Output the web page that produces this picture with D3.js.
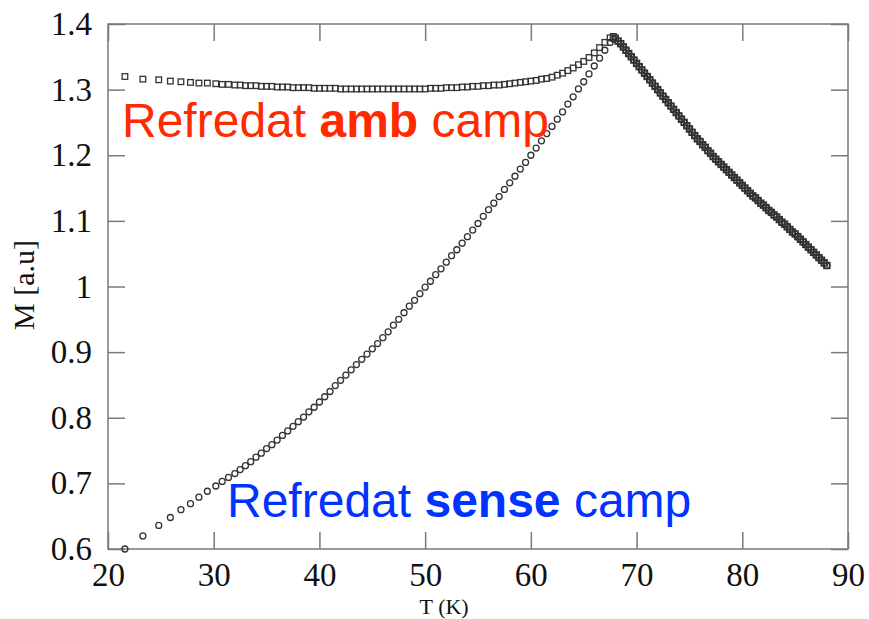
<!DOCTYPE html>
<meta charset="utf-8">
<script src="https://d3js.org/d3.v7.min.js"></script>
<style>
  body { margin: 0; background: #fff; }
</style>
<div id="my_dataviz"></div>
<script>

// temperatures shared by both curves, up to the peak
var tempRise = [21.6, 23.3, 24.8, 25.9, 26.9, 27.8, 28.6, 29.4, 30.2, 30.8, 31.4, 32.0, 32.5, 33.0,
  33.5, 34, 34.5, 35, 35.5, 36, 36.5, 37, 37.5, 38,
  38.5, 39, 39.5, 40, 40.5, 41, 41.5, 42, 42.5, 43,
  43.5, 44, 44.5, 45, 45.5, 46, 46.5, 47, 47.5, 48,
  48.5, 49, 49.5, 50, 50.5, 51, 51.5, 52, 52.5, 53,
  53.5, 54, 54.5, 55, 55.5, 56, 56.5, 57, 57.5, 58,
  58.5, 59, 59.5, 60, 60.5, 61, 61.5, 62, 62.5, 63,
  63.5, 64, 64.5, 65, 65.5, 66, 66.5, 67, 67.5, 67.8, 68.0];

// cooled with field (squares)
var mFieldCooled = [1.320, 1.316, 1.315, 1.313, 1.312, 1.311, 1.310, 1.310, 1.309, 1.308, 1.308, 1.307, 1.307, 1.306,
  1.306, 1.306, 1.305, 1.305, 1.305, 1.304, 1.304, 1.304, 1.303, 1.303,
  1.303, 1.303, 1.302, 1.302, 1.302, 1.302, 1.302, 1.301, 1.301, 1.301,
  1.301, 1.301, 1.301, 1.301, 1.301, 1.301, 1.301, 1.301, 1.301, 1.301,
  1.301, 1.301, 1.301, 1.301, 1.302, 1.302, 1.302, 1.303, 1.303, 1.303,
  1.304, 1.304, 1.305, 1.305, 1.306, 1.306, 1.307, 1.307, 1.308, 1.309,
  1.310, 1.311, 1.312, 1.313, 1.314, 1.316, 1.317, 1.319, 1.322, 1.325,
  1.329, 1.333, 1.338, 1.343, 1.349, 1.356, 1.364, 1.372, 1.379, 1.381, 1.379];

// cooled without field (circles)
var mZeroCooled = [0.600, 0.620, 0.636, 0.648, 0.660, 0.669, 0.679, 0.688, 0.696, 0.703, 0.709, 0.715, 0.721, 0.727,
  0.733, 0.740, 0.746, 0.753, 0.759, 0.766, 0.773, 0.780, 0.787, 0.794,
  0.801, 0.809, 0.816, 0.824, 0.832, 0.840, 0.849, 0.857, 0.865, 0.873,
  0.881, 0.889, 0.897, 0.905, 0.913, 0.922, 0.931, 0.941, 0.950, 0.960,
  0.970, 0.979, 0.989, 0.999, 1.008, 1.018, 1.027, 1.037, 1.047, 1.056,
  1.066, 1.076, 1.086, 1.096, 1.107, 1.117, 1.127, 1.137, 1.148, 1.158,
  1.168, 1.179, 1.189, 1.200, 1.211, 1.222, 1.233, 1.244, 1.255, 1.266,
  1.278, 1.289, 1.301, 1.312, 1.324, 1.336, 1.348, 1.360, 1.372, 1.377, 1.378];

// above the peak both curves coincide
var tempFall = [68.25, 68.5, 68.75, 69, 69.25, 69.5, 69.75, 70,
  70.25, 70.5, 70.75, 71, 71.25, 71.5, 71.75, 72,
  72.25, 72.5, 72.75, 73, 73.25, 73.5, 73.75, 74,
  74.25, 74.5, 74.75, 75, 75.25, 75.5, 75.75, 76,
  76.25, 76.5, 76.75, 77, 77.25, 77.5, 77.75, 78,
  78.25, 78.5, 78.75, 79, 79.25, 79.5, 79.75, 80,
  80.25, 80.5, 80.75, 81, 81.25, 81.5, 81.75, 82,
  82.25, 82.5, 82.75, 83, 83.25, 83.5, 83.75, 84,
  84.25, 84.5, 84.75, 85, 85.25, 85.5, 85.75, 86,
  86.25, 86.5, 86.75, 87, 87.25, 87.5, 87.75, 88];

var mFall = [1.374, 1.370, 1.365, 1.360, 1.355, 1.350, 1.345, 1.340,
  1.335, 1.330, 1.325, 1.320, 1.315, 1.310, 1.305, 1.300,
  1.295, 1.290, 1.285, 1.280, 1.275, 1.270, 1.265, 1.260,
  1.255, 1.250, 1.245, 1.240, 1.235, 1.230, 1.225, 1.221,
  1.216, 1.212, 1.207, 1.203, 1.198, 1.194, 1.190, 1.186,
  1.182, 1.178, 1.174, 1.170, 1.166, 1.162, 1.158, 1.154,
  1.150, 1.146, 1.142, 1.138, 1.135, 1.131, 1.127, 1.124,
  1.120, 1.116, 1.113, 1.109, 1.106, 1.102, 1.098, 1.095,
  1.091, 1.087, 1.083, 1.080, 1.076, 1.072, 1.068, 1.064,
  1.060, 1.056, 1.052, 1.048, 1.044, 1.040, 1.036, 1.032];

var xTicks = [20, 30, 40, 50, 60, 70, 80, 90];
var yTicks = [0.6, 0.7, 0.8, 0.9, 1.0, 1.1, 1.2, 1.3, 1.4];

// set the dimensions and margins of the graph
var margin = {top: 24, right: 21, bottom: 70, left: 108},
    width = 869 - margin.left - margin.right,
    height = 619 - margin.top - margin.bottom;

var svg = d3.select("#my_dataviz")
  .append("svg")
    .attr("width", 869)
    .attr("height", 619)
  .append("g")
    .attr("transform", "translate(" + margin.left + "," + margin.top + ")");

var x = d3.scaleLinear().domain([20, 90]).range([0, width]);
var y = d3.scaleLinear().domain([0.6, 1.4]).range([height, 0]);

var frameColor = "#7a7a7a";
var tickFont = "'Liberation Serif', 'DejaVu Serif', serif";

// frame
svg.append("rect")
  .attr("width", width)
  .attr("height", height)
  .style("fill", "none")
  .style("stroke", frameColor)
  .style("stroke-width", 1.5);

// bottom axis, ticks pointing inwards
svg.append("g")
  .attr("transform", "translate(0," + height + ")")
  .call(d3.axisBottom(x).tickValues(xTicks).tickSize(-17).tickSizeOuter(0).tickPadding(14).tickFormat(d3.format("d")))
  .call(function(g) { g.select(".domain").remove(); });

// top axis, no labels
svg.append("g")
  .call(d3.axisTop(x).tickValues(xTicks).tickSize(-17).tickSizeOuter(0).tickFormat(""))
  .call(function(g) { g.select(".domain").remove(); });

// left axis
svg.append("g")
  .call(d3.axisLeft(y).tickValues(yTicks).tickSize(-17).tickSizeOuter(0).tickPadding(16)
    .tickFormat(function(d) { return d === 1 ? "1" : d3.format(".1f")(d); }))
  .call(function(g) { g.select(".domain").remove(); });

// right axis, no labels
svg.append("g")
  .attr("transform", "translate(" + width + ",0)")
  .call(d3.axisRight(y).tickValues(yTicks).tickSize(-17).tickSizeOuter(0).tickFormat(""))
  .call(function(g) { g.select(".domain").remove(); });

svg.selectAll(".tick line")
  .style("stroke", frameColor)
  .style("stroke-width", 1.5);
svg.selectAll(".tick text")
  .style("font-family", tickFont)
  .style("font-size", "33px")
  .style("fill", "#111");

// axis labels
svg.append("text")
  .attr("text-anchor", "middle")
  .attr("x", x(51.8))
  .attr("y", 614 - margin.top)
  .style("font-family", tickFont)
  .style("font-size", "22px")
  .style("fill", "#111")
  .text("T (K)");

svg.append("text")
  .attr("text-anchor", "middle")
  .attr("transform", "translate(" + (34 - margin.left) + "," + (285 - margin.top) + ") rotate(-90)")
  .style("font-family", tickFont)
  .style("font-size", "30px")
  .style("fill", "#111")
  .text("M [a.u]");

// build the two series
var fieldCooled = tempRise.map(function(t, i) { return {t: t, m: mFieldCooled[i]}; })
  .concat(tempFall.map(function(t, i) { return {t: t, m: mFall[i]}; }));
var zeroCooled = tempRise.map(function(t, i) { return {t: t, m: mZeroCooled[i]}; })
  .concat(tempFall.map(function(t, i) { return {t: t, m: mFall[i]}; }));

var markColor = "#333";
var side = 5.6;

// circles: cooled without field
svg.append("g")
  .selectAll("circle")
  .data(zeroCooled)
  .enter()
  .append("circle")
    .attr("cx", function(d) { return x(d.t); })
    .attr("cy", function(d) { return y(d.m); })
    .attr("r", 3.0)
    .style("fill", "none")
    .style("stroke", markColor)
    .style("stroke-width", 1.3);

// squares: cooled with field
svg.append("g")
  .selectAll("rect")
  .data(fieldCooled)
  .enter()
  .append("rect")
    .attr("x", function(d) { return x(d.t) - side / 2; })
    .attr("y", function(d) { return y(d.m) - side / 2; })
    .attr("width", side)
    .attr("height", side)
    .style("fill", "none")
    .style("stroke", markColor)
    .style("stroke-width", function(d) { return d.t > 68 ? 1.8 : 1.3; });

// annotations
var red = svg.append("text")
  .attr("x", 122 - margin.left)
  .attr("y", 137 - margin.top)
  .style("font-family", "'Liberation Sans', Arial, sans-serif")
  .style("font-size", "48px")
  .style("fill", "#ff2a00");
red.append("tspan").text("Refredat ");
red.append("tspan").style("font-weight", "bold").text("amb");
red.append("tspan").text(" camp");

var blue = svg.append("text")
  .attr("x", 227 - margin.left)
  .attr("y", 517 - margin.top)
  .style("font-family", "'Liberation Sans', Arial, sans-serif")
  .style("font-size", "48px")
  .style("fill", "#0033ff");
blue.append("tspan").text("Refredat ");
blue.append("tspan").style("font-weight", "bold").text("sense");
blue.append("tspan").text(" camp");

</script>
